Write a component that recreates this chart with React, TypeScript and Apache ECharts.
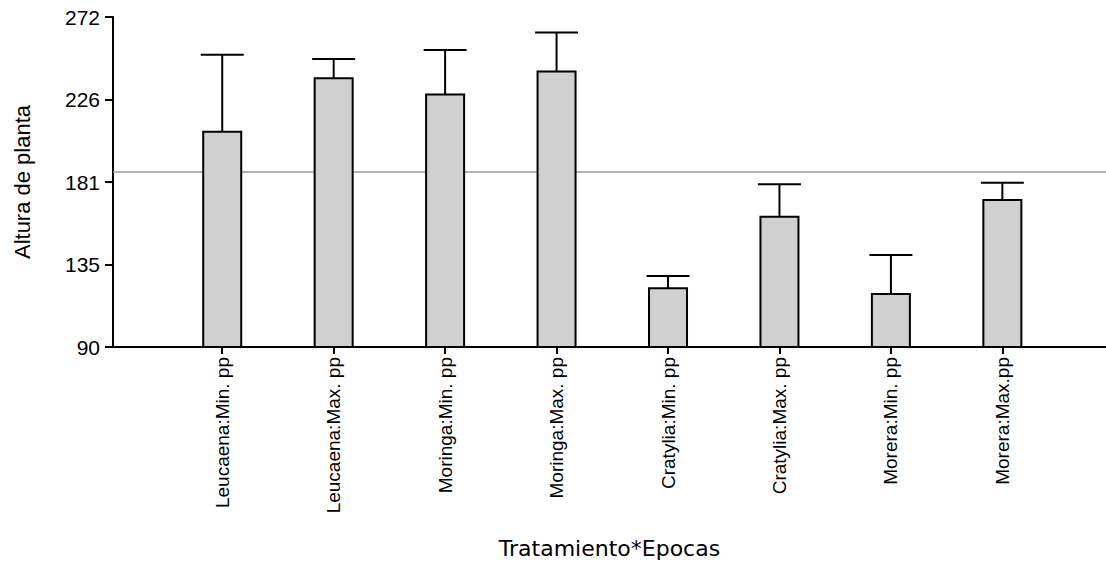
import React, { useEffect, useRef } from "react";
import * as echarts from "echarts";

const categories = [
  "Leucaena:Min. pp",
  "Leucaena:Max. pp",
  "Moringa:Min. pp",
  "Moringa:Max. pp",
  "Cratylia:Min. pp",
  "Cratylia:Max. pp",
  "Morera:Min. pp",
  "Morera:Max.pp",
];
const means = [208.7, 238.2, 229.2, 241.9, 122.4, 161.9, 119.2, 171.1];
const errors = [42.5, 10.7, 24.6, 21.5, 6.8, 17.8, 21.5, 9.5];
const referenceValue = 186.7;
const yMin = 90;
const yMax = 272;
const yInterval = 45.5;
const xTitle = "Tratamiento*Epocas";
const yTitle = "Altura de planta";

const FONT = "'Liberation Sans', Arial, sans-serif";

export default function App() {
  const ref = useRef<HTMLDivElement>(null);
  useEffect(() => {
    if (!ref.current) return;
    const chart = echarts.init(ref.current, null, { renderer: "svg" });
    const positions = categories.map((_, i) => i + 1);
    const data = categories.map((_, i) => [i + 1, means[i], errors[i]]);
    chart.setOption({
      animation: false,
      backgroundColor: "#ffffff",
      grid: { left: 113, right: 0, top: 17, bottom: 215, outerBoundsMode: "none" },
      xAxis: {
        type: "value",
        min: 0.02,
        max: 8.93,
        splitLine: { show: false },
        axisLine: { show: true, onZero: false, lineStyle: { color: "#000", width: 2 } },
        axisTick: {
          show: true,
          customValues: positions,
          length: 7,
          lineStyle: { color: "#000", width: 2 },
        },
        axisLabel: {
          show: true,
          customValues: positions,
          rotate: 90,
          margin: 10,
          color: "#000",
          fontSize: 19,
          fontFamily: FONT,
          formatter: (v: number) => categories[Math.round(v) - 1] ?? "",
        },
        name: xTitle,
        nameLocation: "middle",
        nameGap: 190,
        nameTextStyle: { color: "#000", fontSize: 22, fontFamily: "'DejaVu Sans', sans-serif" },
      },
      yAxis: {
        type: "value",
        min: yMin,
        max: yMax,
        interval: yInterval,
        splitLine: { show: false },
        axisLine: { show: true, lineStyle: { color: "#000", width: 2 } },
        axisTick: { show: true, length: 8, lineStyle: { color: "#000", width: 2 } },
        axisLabel: {
          color: "#000",
          fontSize: 21,
          fontFamily: FONT,
          margin: 13,
          formatter: (v: number) => String(Math.floor(v)),
        },
        name: yTitle,
        nameLocation: "middle",
        nameGap: 80,
        nameTextStyle: { color: "#000", fontSize: 22, fontFamily: FONT },
      },
      series: [
        {
          type: "line",
          data: [],
          silent: true,
          z: 1,
          markLine: {
            silent: true,
            symbol: "none",
            label: { show: false },
            lineStyle: { color: "#999999", width: 1.5, type: "solid" },
            data: [{ yAxis: referenceValue }],
          },
        },
        {
          type: "custom",
          z: 5,
          data,
          renderItem: (params: any, api: any) => {
            const x = api.value(0);
            const y = api.value(1);
            const e = api.value(2);
            const base = api.coord([x, yMin]);
            const top = api.coord([x, y]);
            const errTop = api.coord([x, y + e]);
            return {
              type: "group",
              children: [
                {
                  type: "line",
                  shape: { x1: top[0], y1: top[1], x2: errTop[0], y2: errTop[1] },
                  style: { stroke: "#000", lineWidth: 2 },
                },
                {
                  type: "line",
                  shape: { x1: errTop[0] - 21.5, y1: errTop[1], x2: errTop[0] + 21.5, y2: errTop[1] },
                  style: { stroke: "#000", lineWidth: 2 },
                },
                {
                  type: "rect",
                  shape: { x: top[0] - 19, y: top[1], width: 38, height: base[1] - top[1] },
                  style: { fill: "#d0d0d0", stroke: "#000", lineWidth: 2 },
                },
              ],
            };
          },
        },
      ],
    });
    return () => chart.dispose();
  }, []);
  return (
    <div
      ref={ref}
      style={{ position: "fixed", left: 0, top: 0, width: 1106, height: 562 }}
    />
  );
}
